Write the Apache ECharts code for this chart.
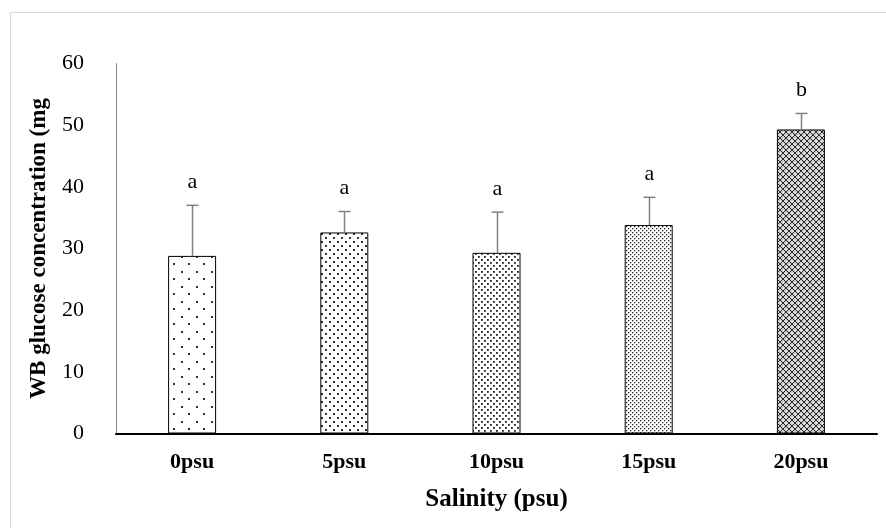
<!DOCTYPE html>
<html>
<head>
<meta charset="utf-8">
<script src="https://cdn.jsdelivr.net/npm/echarts@6/dist/echarts.min.js"></script>
<style>html,body{margin:0;padding:0;background:#fff}#c{width:886px;height:528px}</style>
</head>
<body>
<div id="c"></div>
<script>
const categories = ['0psu', '5psu', '10psu', '15psu', '20psu'];
const means = [28.8, 32.6, 29.3, 33.8, 49.3];
const errors = [8.2, 3.4, 6.6, 4.5, 2.6];
const letters = ['a', 'a', 'a', 'a', 'b'];
const yTicks = [0, 10, 20, 30, 40, 50, 60];

function dotPattern(w, h, dots, size, color) {
  const c = document.createElement('canvas');
  c.width = w; c.height = h;
  const g = c.getContext('2d');
  g.fillStyle = '#fff'; g.fillRect(0, 0, w, h);
  g.fillStyle = color;
  dots.forEach(d => g.fillRect(d[0], d[1], size, size));
  return c;
}
function hatchPattern() {
  const c = document.createElement('canvas');
  c.width = 6; c.height = 6;
  const g = c.getContext('2d');
  g.fillStyle = '#cfcfcf'; g.fillRect(0, 0, 6, 6);
  g.fillStyle = '#2a2a2a';
  for (let i = 0; i < 6; i++) {
    g.fillRect(i, i, 1, 1);
    g.fillRect(5 - i, i, 1, 1);
  }
  g.fillStyle = '#fff';
  g.fillRect(3, 0, 1, 1); g.fillRect(0, 3, 1, 1);
  return c;
}
const patterns = [
  dotPattern(15, 15, [[1, 1], [8, 8]], 2, '#333'),
  dotPattern(8, 8, [[1, 1], [5, 5]], 2, '#333'),
  dotPattern(6, 6, [[1, 1], [4, 4]], 1.8, '#222'),
  dotPattern(4, 4, [[0, 0], [2, 2]], 1.3, '#222'),
  hatchPattern()
];

const chart = echarts.init(document.getElementById('c'), null, {renderer: 'canvas'});
const serif = '"Liberation Serif", "Times New Roman", serif';

chart.setOption({
  animation: false,
  backgroundColor: '#fff',
  graphic: [{
    type: 'rect', silent: true,
    shape: {x: 10.5, y: 12.5, width: 900, height: 540},
    style: {fill: 'none', stroke: '#d9d9d9', lineWidth: 1}
  }],
  grid: {left: 116, right: 9, top: 63.5, bottom: 94.5},
  xAxis: {
    type: 'category',
    data: categories,
    name: 'Salinity (psu)',
    nameLocation: 'middle',
    nameGap: 54,
    nameTextStyle: {fontFamily: serif, fontWeight: 'bold', fontSize: 25, color: '#000'},
    axisLine: {lineStyle: {color: '#000', width: 2}},
    axisTick: {show: false},
    axisLabel: {fontFamily: serif, fontWeight: 'bold', fontSize: 22, color: '#000', margin: 18}
  },
  yAxis: {
    type: 'value',
    min: yTicks[0], max: yTicks[yTicks.length - 1], interval: 10,
    name: 'WB glucose concentration (mg',
    nameLocation: 'middle',
    nameGap: 65,
    nameTextStyle: {fontFamily: serif, fontWeight: 'bold', fontSize: 23, color: '#000'},
    axisLine: {show: true, lineStyle: {color: '#868686', width: 1}},
    axisTick: {show: false},
    splitLine: {show: false},
    axisLabel: {fontFamily: serif, fontSize: 22, color: '#000', margin: 32}
  },
  series: [{
    type: 'bar',
    barWidth: 48,
    data: means.map((v, i) => ({
      value: v,
      itemStyle: {color: {image: patterns[i], repeat: 'repeat'}, borderColor: '#000', borderWidth: 1}
    }))
  }, {
    type: 'custom',
    data: means.map((v, i) => [i, v, v + errors[i]]),
    renderItem: function (params, api) {
      const x = api.value(0);
      const p0 = api.coord([x, api.value(1)]);
      const p1 = api.coord([x, api.value(2)]);
      const cx = Math.round(p0[0]) + 0.5;
      return {
        type: 'group',
        children: [
          {type: 'line', shape: {x1: cx, y1: p0[1], x2: cx, y2: p1[1]}, style: {stroke: '#808080', lineWidth: 1.5}},
          {type: 'line', shape: {x1: cx - 6, y1: p1[1], x2: cx + 6, y2: p1[1]}, style: {stroke: '#808080', lineWidth: 1.5}},
          {type: 'text', style: {text: letters[params.dataIndex], x: cx, y: p1[1] - 23, textAlign: 'center', textVerticalAlign: 'middle', font: '22px ' + serif, fill: '#000'}}
        ]
      };
    },
    z: 5
  }]
});
</script>
</body>
</html>
